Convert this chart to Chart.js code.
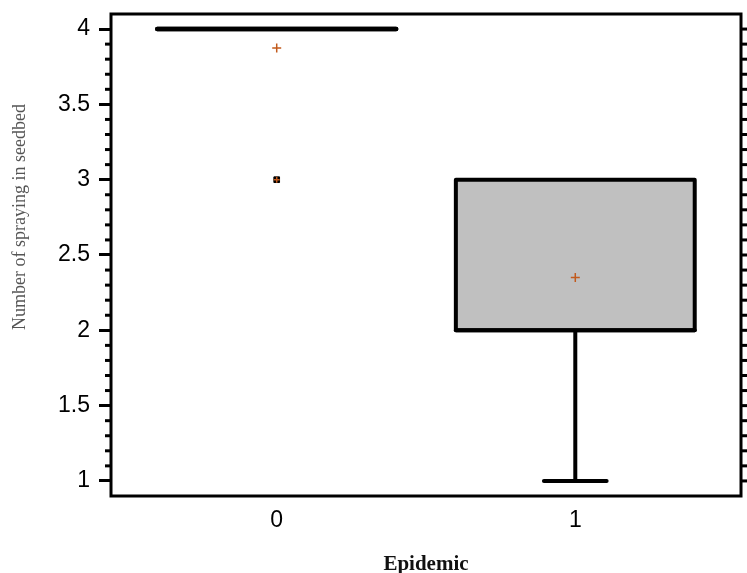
<!DOCTYPE html>
<html>
<head>
<meta charset="utf-8">
<script src="https://cdn.jsdelivr.net/npm/chart.js@4.4.1/dist/chart.umd.min.js"></script>
<style>
  html,body{margin:0;padding:0;background:#fff;}
  #c{display:block;}
</style>
</head>
<body>
<canvas id="c" width="747" height="573"></canvas>
<script>
// ====== Data ======
const categories  = ['0','1'];
const groupPos    = [0, 1];
const q1          = [4, 2];
const median      = [4, 2];
const q3          = [4, 3];
const whiskerLow  = [4, 1];
const whiskerHigh = [4, 3];
const means       = [3.875, 2.35];
const outlierGroup = [0];
const outlierValue = [3];
const yTicks = [1, 1.5, 2, 2.5, 3, 3.5, 4];

// ====== Helpers ======
const BOX_W = 0.8, CAP_W = 0.21;
const ORANGE = '#c25a1c';
const yTitle = 'Number of spraying in seedbed';

// box + whiskers + frame, all through the chart scales
const boxPlugin = {
  id:'boxes',
  beforeDatasetsDraw(chart){
    const {ctx, chartArea:a, scales:{x, y}} = chart;
    ctx.save();
    ctx.lineJoin='round'; ctx.lineCap='round'; ctx.strokeStyle='#000';
    groupPos.forEach((g,i)=>{
      const xl=x.getPixelForValue(g-BOX_W/2), xr=x.getPixelForValue(g+BOX_W/2), xc=x.getPixelForValue(g);
      const yt=y.getPixelForValue(q3[i]), yb=y.getPixelForValue(q1[i]);
      // whiskers
      ctx.lineWidth=4;
      [[whiskerLow[i], q1[i]],[whiskerHigh[i], q3[i]]].forEach(([w,q])=>{
        if(w===q) return;
        const yw=y.getPixelForValue(w), yq=y.getPixelForValue(q);
        ctx.beginPath(); ctx.moveTo(xc,yq); ctx.lineTo(xc,yw); ctx.stroke();
        ctx.beginPath(); ctx.moveTo(x.getPixelForValue(g-CAP_W/2),yw); ctx.lineTo(x.getPixelForValue(g+CAP_W/2),yw); ctx.stroke();
      });
      // box
      if(yb>yt){ ctx.fillStyle='#c0c0c0'; ctx.fillRect(xl,yt,xr-xl,yb-yt); }
      ctx.lineWidth = yb>yt ? 4 : 4.5;
      ctx.beginPath(); ctx.rect(xl,yt,xr-xl,yb-yt); ctx.stroke();
      const ym=y.getPixelForValue(median[i]);
      ctx.beginPath(); ctx.moveTo(xl,ym); ctx.lineTo(xr,ym); ctx.stroke();
    });
    ctx.restore();
  },
  afterDraw(chart){
    const {ctx, chartArea:a, scales:{y}} = chart;
    ctx.save();
    ctx.strokeStyle='#000'; ctx.lineCap='butt';
    // minor ticks (left) and ticks (right)
    ctx.lineWidth=3;
    for(let k=10;k<=40;k++){
      const v=k/10, py=y.getPixelForValue(v);
      if(k%5!==0){ ctx.beginPath(); ctx.moveTo(a.left-6,py); ctx.lineTo(a.left,py); ctx.stroke(); }
      ctx.beginPath(); ctx.moveTo(a.right,py); ctx.lineTo(a.right+(k%5===0?12:7),py); ctx.stroke();
    }
    // frame
    ctx.lineWidth=3;
    ctx.strokeRect(a.left,a.top,a.right-a.left,a.bottom-a.top);
    // y title
    ctx.translate(20,217); ctx.rotate(-Math.PI/2);
    ctx.fillStyle='#555'; ctx.font='18px "Liberation Serif", "Times New Roman", serif';
    ctx.textAlign='center'; ctx.textBaseline='middle';
    ctx.fillText(yTitle,0,0);
    ctx.restore();
  }
};

// ====== Chart ======
const tickFont = { family:'"Liberation Sans", Arial, sans-serif', size:23 };
new Chart(document.getElementById('c'), {
  type:'scatter',
  data:{ datasets:[
    { label:'Mean', data:means.map((m,i)=>({x:groupPos[i], y:m})),
      pointStyle:'cross', radius:4.5, borderColor:ORANGE, borderWidth:1.5 },
    { label:'Outlier mean mark', data:outlierValue.map((v,i)=>({x:groupPos[outlierGroup[i]], y:v})),
      pointStyle:'cross', radius:3, borderColor:ORANGE, borderWidth:1.5 },
    { label:'Outlier', data:outlierValue.map((v,i)=>({x:groupPos[outlierGroup[i]], y:v})),
      pointStyle:'rect', radius:4, backgroundColor:'#000', borderColor:'#000', borderWidth:1 }
  ]},
  options:{
    responsive:false, animation:false,
    layout:{ padding:{ top:14, right:6, left:0, bottom:0 } },
    plugins:{ legend:{display:false}, tooltip:{enabled:false} },
    scales:{
      x:{
        type:'linear', min:-0.555, max:1.555,
        afterBuildTicks:s=>{ s.ticks = groupPos.map(v=>({value:v})); },
        afterFit:s=>{ s.height = 77; s.paddingLeft = 0; s.paddingRight = 0; },
        grid:{ drawOnChartArea:false, drawTicks:false },
        border:{ display:false },
        ticks:{ padding:11, color:'#000', font:tickFont,
          callback:(v)=>{ const i=groupPos.indexOf(v); return i>-1 ? categories[i] : ''; } },
        title:{ display:true, text:'Epidemic', color:'#111', padding:{top:0,bottom:-4},
          font:{ family:'"Liberation Serif", "Times New Roman", serif', size:21, weight:'bold' } }
      },
      y:{
        min:0.9, max:4.1,
        afterBuildTicks:s=>{ s.ticks = yTicks.map(v=>({value:v})); },
        afterFit:s=>{ s.width = 111; s.paddingTop = 0; s.paddingBottom = 0; },
        grid:{ drawOnChartArea:false, tickLength:12, tickWidth:3, tickColor:'#000' },
        border:{ display:false },
        ticks:{ padding:9, color:'#000', font:tickFont, callback:v=>String(v) }
      }
    }
  },
  plugins:[boxPlugin]
});
</script>
</body>
</html>
